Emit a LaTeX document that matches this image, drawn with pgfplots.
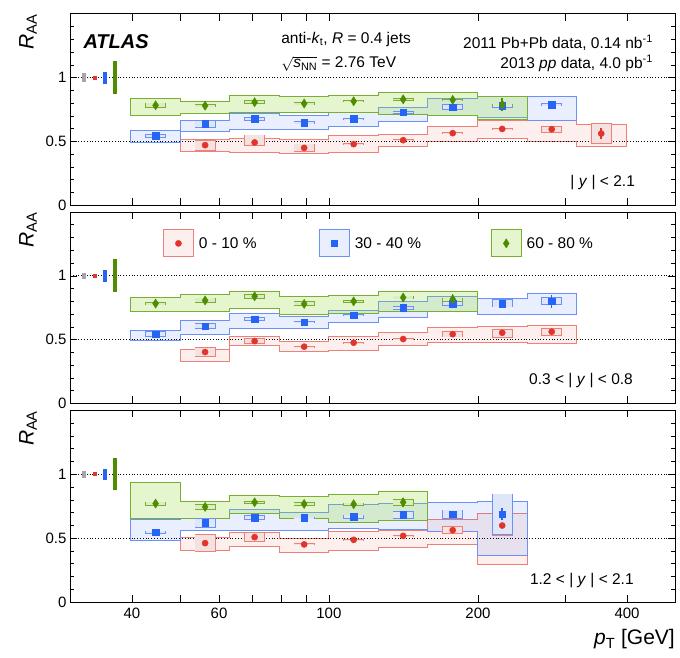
\documentclass[border=0pt]{standalone}
\usepackage{fontspec}
\setmainfont{Liberation Sans}
\usepackage{pgfplots}
\usepackage{pgfplotstable}
\pgfplotsset{compat=1.18}

\definecolor{cRed}{RGB}{226,52,42}
\definecolor{cBlue}{RGB}{38,100,245}
\definecolor{cGreen}{RGB}{78,140,0}
\definecolor{bGreen}{RGB}{150,220,60}
\definecolor{lGreen}{RGB}{120,175,50}
\definecolor{lRed}{RGB}{238,128,120}
\definecolor{lBlue}{RGB}{105,145,248}
\definecolor{fRed}{RGB}{242,226,225}
\definecolor{fBlue}{RGB}{222,230,248}
\definecolor{fGreen}{RGB}{218,238,192}
\definecolor{nGray}{RGB}{165,165,165}

\newcommand\tfs{\fontsize{15.5}{18}\selectfont}
\newcommand\lfs{\fontsize{21}{24}\selectfont}

% ---------- band outlines: top edge forward, bottom edge backward ----------
% Panel 1: |y| < 2.1
\pgfplotstableread{
x y
39.81 0.835
50.12 0.817
63.10 0.857
79.43 0.849
100 0.864
125.89 0.883
158.49 0.883
199.53 0.849
251.19 0.849
251.19 0.671
199.53 0.705
158.49 0.712
125.89 0.726
100 0.726
79.43 0.726
63.10 0.718
50.12 0.705
39.81 0.705
}\bandGone
\pgfplotstableread{
x y
39.81 0.585
50.12 0.666
63.10 0.718
79.43 0.700
100 0.726
125.89 0.765
158.49 0.840
199.53 0.852
251.19 0.852
316.23 0.852
316.23 0.666
251.19 0.685
199.53 0.700
158.49 0.655
125.89 0.614
100 0.595
79.43 0.595
63.10 0.575
50.12 0.492
39.81 0.492
}\bandBone
\pgfplotstableread{
x y
50.12 0.515
63.10 0.523
79.43 0.515
100 0.549
125.89 0.554
158.49 0.620
199.53 0.666
251.19 0.666
316.23 0.635
398.11 0.635
398.11 0.458
316.23 0.502
251.19 0.523
199.53 0.497
158.49 0.458
125.89 0.414
100 0.406
79.43 0.414
63.10 0.424
50.12 0.424
}\bandRone
% Panel 2: 0.3 < |y| < 0.8
\pgfplotstableread{
x y
39.81 0.830
50.12 0.854
63.10 0.880
79.43 0.840
100 0.848
125.89 0.880
158.49 0.874
199.53 0.874
199.53 0.718
158.49 0.723
125.89 0.705
100 0.697
79.43 0.744
63.10 0.723
50.12 0.723
39.81 0.723
}\bandGtwo
\pgfplotstableread{
x y
39.81 0.575
50.12 0.648
63.10 0.703
79.43 0.684
100 0.731
125.89 0.800
158.49 0.840
199.53 0.820
251.19 0.865
316.23 0.865
316.23 0.697
251.19 0.697
199.53 0.718
158.49 0.674
125.89 0.632
100 0.585
79.43 0.585
63.10 0.541
50.12 0.497
39.81 0.497
}\bandBtwo
\pgfplotstableread{
x y
50.12 0.426
63.10 0.523
79.43 0.489
100 0.523
125.89 0.554
158.49 0.593
199.53 0.606
251.19 0.614
316.23 0.614
316.23 0.471
251.19 0.479
199.53 0.479
158.49 0.453
125.89 0.419
100 0.411
79.43 0.457
63.10 0.333
50.12 0.333
}\bandRtwo
% Panel 3: 1.2 < |y| < 2.1
\pgfplotstableread{
x y
39.81 0.940
50.12 0.784
63.10 0.833
79.43 0.826
100 0.841
125.89 0.862
158.49 0.862
158.49 0.640
125.89 0.622
100 0.654
79.43 0.693
63.10 0.654
50.12 0.654
39.81 0.654
}\bandGthree
\pgfplotstableread{
x y
39.81 0.646
50.12 0.651
63.10 0.724
79.43 0.698
100 0.763
125.89 0.771
158.49 0.779
199.53 0.784
251.19 0.784
251.19 0.367
199.53 0.555
158.49 0.570
125.89 0.576
100 0.557
79.43 0.557
63.10 0.557
50.12 0.479
39.81 0.479
}\bandBthree
\pgfplotstableread{
x y
50.12 0.503
63.10 0.547
79.43 0.497
100 0.550
125.89 0.557
158.49 0.646
199.53 0.693
251.19 0.693
251.19 0.294
199.53 0.453
158.49 0.427
125.89 0.406
100 0.385
79.43 0.4375
63.10 0.406
50.12 0.406
}\bandRthree

% ---------- points: x, R_AA, stat. error, uncorrelated box low/high ----------
\pgfplotstableread{
x y s blo bhi
44.67 0.783 0.015 0.762 0.804
56.23 0.780 0.015 0.772 0.790
70.79 0.807 0.020 0.794 0.822
89.13 0.797 0.015 0.784 0.810
112.2 0.815 0.020 0.808 0.822
141.25 0.830 0.025 0.820 0.838
177.83 0.826 0.030 0.815 0.835
223.87 0.789 0.050 0.780 0.797
}\ptsGone
\pgfplotstableread{
x y s blo bhi
44.67 0.545 0.010 0.531 0.557
56.23 0.638 0.015 0.609 0.664
70.79 0.677 0.015 0.664 0.690
89.13 0.648 0.012 0.635 0.659
112.2 0.678 0.012 0.671 0.685
141.25 0.727 0.015 0.715 0.740
177.83 0.768 0.020 0.745 0.790
223.87 0.780 0.020 0.765 0.795
281.84 0.789 0.030 0.775 0.803
}\ptsBone
\pgfplotstableread{
x y s blo bhi
56.23 0.471 0.010 0.427 0.510
70.79 0.492 0.015 0.466 0.554
89.13 0.450 0.012 0.421 0.484
112.2 0.479 0.010 0.472 0.486
141.25 0.510 0.010 0.503 0.517
177.83 0.565 0.012 0.558 0.572
223.87 0.598 0.015 0.590 0.606
281.84 0.596 0.015 0.570 0.622
354.81 0.562 0.040 0.479 0.647
}\ptsRone
\pgfplotstableread{
x y s blo bhi
44.67 0.783 0.015 0.770 0.795
56.23 0.807 0.020 0.785 0.830
70.79 0.840 0.020 0.822 0.857
89.13 0.780 0.020 0.762 0.800
112.2 0.800 0.020 0.790 0.810
141.25 0.830 0.025 0.815 0.845
177.83 0.817 0.040 0.795 0.830
}\ptsGtwo
\pgfplotstableread{
x y s blo bhi
44.67 0.543 0.012 0.520 0.570
56.23 0.606 0.012 0.585 0.627
70.79 0.660 0.012 0.645 0.675
89.13 0.637 0.012 0.630 0.645
112.2 0.692 0.012 0.685 0.700
141.25 0.749 0.015 0.731 0.762
177.83 0.783 0.020 0.762 0.804
223.87 0.783 0.025 0.752 0.815
281.84 0.800 0.050 0.770 0.835
}\ptsBtwo
\pgfplotstableread{
x y s blo bhi
56.23 0.403 0.012 0.367 0.445
70.79 0.489 0.015 0.464 0.510
89.13 0.445 0.010 0.438 0.452
112.2 0.476 0.010 0.470 0.482
141.25 0.505 0.010 0.499 0.511
177.83 0.543 0.012 0.518 0.567
223.87 0.554 0.015 0.515 0.585
281.84 0.562 0.020 0.528 0.593
}\ptsRtwo
\pgfplotstableread{
x y s blo bhi
44.67 0.771 0.020 0.755 0.786
56.23 0.745 0.025 0.724 0.766
70.79 0.781 0.025 0.771 0.792
89.13 0.768 0.025 0.755 0.781
112.2 0.766 0.025 0.752 0.779
141.25 0.781 0.035 0.755 0.807
}\ptsGthree
\pgfplotstableread{
x y s blo bhi
44.67 0.547 0.012 0.536 0.560
56.23 0.620 0.015 0.583 0.656
70.79 0.661 0.015 0.641 0.680
89.13 0.659 0.012 0.649 0.669
112.2 0.667 0.015 0.651 0.685
141.25 0.685 0.015 0.654 0.713
177.83 0.690 0.015 0.654 0.724
223.87 0.690 0.045 0.523 0.849
}\ptsBthree
\pgfplotstableread{
x y s blo bhi
56.23 0.461 0.012 0.391 0.529
70.79 0.508 0.012 0.469 0.550
89.13 0.451 0.010 0.443 0.460
112.2 0.487 0.008 0.481 0.493
141.25 0.518 0.010 0.510 0.526
177.83 0.5625 0.012 0.536 0.594
223.87 0.599 0.020 0.518 0.693
}\ptsRthree

% normalisation uncertainty boxes at R_AA = 1 (x, half-height), per panel
\pgfplotstableread{
x e
31.98 0.033
}\nGone
\pgfplotstableread{
x e
33.69 0.016
}\nRone
\pgfplotstableread{
x e
35.26 0.047
}\nBone
\pgfplotstableread{
x e
37.02 0.127
}\nGrone
\pgfplotstableread{
x e
31.98 0.026
}\nGtwo
\pgfplotstableread{
x e
33.69 0.015
}\nRtwo
\pgfplotstableread{
x e
35.26 0.045
}\nBtwo
\pgfplotstableread{
x e
37.02 0.130
}\nGrtwo
\pgfplotstableread{
x e
31.98 0.030
}\nGthree
\pgfplotstableread{
x e
33.69 0.015
}\nRthree
\pgfplotstableread{
x e
35.26 0.045
}\nBthree
\pgfplotstableread{
x e
37.02 0.125
}\nGrthree

\pgfplotsset{
  mRed/.style={only marks, mark=*, mark size=3.1pt, color=cRed, mark options={solid},
    /pgfplots/error bars/y dir=both, /pgfplots/error bars/y explicit,
    /pgfplots/error bars/error mark=none,
    /pgfplots/error bars/error bar style={line width=1.5pt, color=cRed}},
  mBlue/.style={only marks, mark=square*, mark size=3.2pt, color=cBlue, mark options={solid},
    /pgfplots/error bars/y dir=both, /pgfplots/error bars/y explicit,
    /pgfplots/error bars/error mark=none,
    /pgfplots/error bars/error bar style={line width=1.5pt, color=cBlue}},
  mGreen/.style={only marks, mark=diamond*, mark size=4.6pt, color=cGreen, mark options={solid, xscale=0.85},
    /pgfplots/error bars/y dir=both, /pgfplots/error bars/y explicit,
    /pgfplots/error bars/error mark=none,
    /pgfplots/error bars/error bar style={line width=1.5pt, color=cGreen}},
  legRed/.style={legend image code/.code={
    \draw[fill=cRed, fill opacity=0.08, draw=lRed, line width=0.9pt] (0pt,-13.5pt) rectangle (30pt,13.5pt);
    \draw[mark repeat=2,mark phase=2,##1] plot coordinates {(0pt,0pt) (15pt,0pt) (30pt,0pt)};}},
  legBlue/.style={legend image code/.code={
    \draw[fill=cBlue, fill opacity=0.1, draw=lBlue, line width=0.9pt] (0pt,-13.5pt) rectangle (30pt,13.5pt);
    \draw[mark repeat=2,mark phase=2,##1] plot coordinates {(0pt,0pt) (15pt,0pt) (30pt,0pt)};}},
  legGreen/.style={legend image code/.code={
    \draw[fill=bGreen, fill opacity=0.25, draw=lGreen, line width=0.9pt] (0pt,-13.5pt) rectangle (30pt,13.5pt);
    \draw[mark repeat=2,mark phase=2,##1] plot coordinates {(0pt,0pt) (15pt,0pt) (30pt,0pt)};}},
}

\newcommand\band[3]{%
  \addplot[const plot, #2, draw=#3, line width=0.9pt, forget plot] table[x=x,y=y]{#1} --cycle;
}
\newcommand\boxes[3]{%
  \addplot[draw=none, no markers, forget plot,
    /pgfplots/error bars/y dir=both, /pgfplots/error bars/y explicit, /pgfplots/error bars/error mark=none,
    /pgfplots/error bars/error bar style={line width=21pt, draw=#2}]
    table[x=x, y=y, y error plus expr=\thisrow{bhi}-\thisrow{y}, y error minus expr=\thisrow{y}-\thisrow{blo}]{#1};
  \addplot[draw=none, no markers, forget plot,
    /pgfplots/error bars/y dir=both, /pgfplots/error bars/y explicit, /pgfplots/error bars/error mark=none,
    /pgfplots/error bars/error bar style={line width=19.4pt, draw=#3}]
    table[x=x, y=y, y error plus expr={max(\thisrow{bhi}-\thisrow{y}-0.0065,0.0003)},
      y error minus expr={max(\thisrow{y}-\thisrow{blo}-0.0065,0.0003)}]{#1};
}
\newcommand\refl{%
  \addplot[black, dash pattern=on 0.8pt off 2pt, line width=0.7pt, forget plot] coordinates {(30,1) (500,1)};
  \addplot[black, dash pattern=on 0.8pt off 2pt, line width=0.7pt, forget plot] coordinates {(30,0.5) (500,0.5)};
}
\newcommand\nbox[2]{%
  \addplot[draw=none, no markers, forget plot,
    /pgfplots/error bars/y dir=both, /pgfplots/error bars/y explicit, /pgfplots/error bars/error mark=none,
    /pgfplots/error bars/error bar style={line width=4pt, draw=#2}] table[x=x, y expr=1, y error=e] {#1};
}
\newcommand\raa{\node[rotate=90, anchor=south east, inner sep=0pt, font=\lfs] at (rel axis cs:-0.0545,1) {\textit{R}\textsubscript{AA}};}

\begin{document}
\begin{tikzpicture}
\useasboundingbox (0,0) rectangle (680pt,658pt);

% ===== Panel 1 =====
\begin{axis}[width=605pt, height=191.5pt, scale only axis,
    xmode=log, xmin=30, xmax=500, ymin=0, ymax=1.5,
    xtick={40,50,60,70,80,90,100,200,300,400}, minor xtick={},
    ytick={0,0.5,1},
    minor ytick={0.1,0.2,0.3,0.4,0.6,0.7,0.8,0.9,1.1,1.2,1.3,1.4},
    major tick length=7pt, minor tick length=4pt,
    tick style={black, line width=0.6pt},
    axis line style={line width=0.8pt},
    tick label style={font=\fontsize{15}{15}\selectfont},
    clip=false,
    /pgf/number format/assume math mode=true,
    at={(70pt,452.7pt)}, anchor=south west, xticklabels={}]
\band{\bandRone}{fill=cRed, fill opacity=0.08}{lRed}
\band{\bandBone}{fill=cBlue, fill opacity=0.1}{lBlue}
\band{\bandGone}{fill=bGreen, fill opacity=0.25}{lGreen}
\refl
\nbox{\nGone}{nGray}\nbox{\nRone}{cRed}\nbox{\nBone}{cBlue}\nbox{\nGrone}{cGreen}
\boxes{\ptsRone}{lRed}{fRed}
\boxes{\ptsBone}{lBlue}{fBlue}
\boxes{\ptsGone}{lGreen}{fGreen}
\addplot[mRed, forget plot] table[x=x,y=y,y error=s]{\ptsRone};
\addplot[mBlue, forget plot] table[x=x,y=y,y error=s]{\ptsBone};
\addplot[mGreen, forget plot] table[x=x,y=y,y error=s]{\ptsGone};
\raa
\node[anchor=base west, inner sep=0pt, font=\fontsize{20}{20}\selectfont\bfseries\itshape] at (rel axis cs:0.022,0.8207) {ATLAS};
\node[anchor=base west, inner sep=0pt, font=\tfs] at (rel axis cs:0.349,0.845) {anti-\textit{k}\textsubscript{t}, \textit{R} = 0.4 jets};
\node[anchor=base west, inner sep=0pt, font=\tfs] at (rel axis cs:0.349,0.719) {$\sqrt{\mbox{\textit{s}\textsubscript{NN}}}$ = 2.76 TeV};
\node[anchor=base east, inner sep=0pt, font=\tfs] at (rel axis cs:0.9636,0.8207) {2011 Pb+Pb data, 0.14 nb\textsuperscript{-1}};
\node[anchor=base east, inner sep=0pt, font=\tfs] at (rel axis cs:0.9636,0.716) {2013 \textit{pp} data, 4.0 pb\textsuperscript{-1}};
\node[anchor=base east, inner sep=0pt, font=\tfs] at (rel axis cs:0.934,0.097) {| \textit{y} | < 2.1};
\end{axis}

% ===== Panel 2 =====
\begin{axis}[width=605pt, height=191.5pt, scale only axis,
    xmode=log, xmin=30, xmax=500, ymin=0, ymax=1.5,
    xtick={40,50,60,70,80,90,100,200,300,400}, minor xtick={},
    ytick={0,0.5,1},
    minor ytick={0.1,0.2,0.3,0.4,0.6,0.7,0.8,0.9,1.1,1.2,1.3,1.4},
    major tick length=7pt, minor tick length=4pt,
    tick style={black, line width=0.6pt},
    axis line style={line width=0.8pt},
    tick label style={font=\fontsize{15}{15}\selectfont},
    clip=false,
    /pgf/number format/assume math mode=true,
    at={(70pt,254.5pt)}, anchor=south west, xticklabels={},
    legend columns=3, legend cell align=left,
    legend style={at={(rel axis cs:0.1537,0.836)}, anchor=west, draw=none, fill=none,
      inner sep=0pt, outer sep=0pt, column sep=0pt, nodes={inner sep=0pt}, font=\tfs}]
\band{\bandRtwo}{fill=cRed, fill opacity=0.08}{lRed}
\band{\bandBtwo}{fill=cBlue, fill opacity=0.1}{lBlue}
\band{\bandGtwo}{fill=bGreen, fill opacity=0.25}{lGreen}
\refl
\nbox{\nGtwo}{nGray}\nbox{\nRtwo}{cRed}\nbox{\nBtwo}{cBlue}\nbox{\nGrtwo}{cGreen}
\boxes{\ptsRtwo}{lRed}{fRed}
\boxes{\ptsBtwo}{lBlue}{fBlue}
\boxes{\ptsGtwo}{lGreen}{fGreen}
\addplot[mRed, legRed] table[x=x,y=y,y error=s]{\ptsRtwo};
\addlegendentry{\makebox[125pt][l]{\hspace{5pt}0 - 10 \%}}
\addplot[mBlue, legBlue] table[x=x,y=y,y error=s]{\ptsBtwo};
\addlegendentry{\makebox[141pt][l]{\hspace{5pt}30 - 40 \%}}
\addplot[mGreen, legGreen] table[x=x,y=y,y error=s]{\ptsGtwo};
\addlegendentry{\hspace{5pt}60 - 80 \%}
\raa
\node[anchor=base east, inner sep=0pt, font=\tfs] at (rel axis cs:0.9306,0.10) {0.3 < | \textit{y} | < 0.8};
\end{axis}

% ===== Panel 3 =====
\begin{axis}[width=605pt, height=191.5pt, scale only axis,
    xmode=log, xmin=30, xmax=500, ymin=0, ymax=1.5,
    xtick={40,50,60,70,80,90,100,200,300,400}, minor xtick={},
    ytick={0,0.5,1},
    minor ytick={0.1,0.2,0.3,0.4,0.6,0.7,0.8,0.9,1.1,1.2,1.3,1.4},
    major tick length=7pt, minor tick length=4pt,
    tick style={black, line width=0.6pt},
    axis line style={line width=0.8pt},
    tick label style={font=\fontsize{15}{15}\selectfont},
    xticklabel style={yshift=-2pt},
    clip=false,
    /pgf/number format/assume math mode=true,
    at={(70pt,56pt)}, anchor=south west, xticklabels={40,,60,,,,100,200,,400}]
\band{\bandRthree}{fill=cRed, fill opacity=0.08}{lRed}
\band{\bandBthree}{fill=cBlue, fill opacity=0.1}{lBlue}
\band{\bandGthree}{fill=bGreen, fill opacity=0.25}{lGreen}
\refl
\nbox{\nGthree}{nGray}\nbox{\nRthree}{cRed}\nbox{\nBthree}{cBlue}\nbox{\nGrthree}{cGreen}
\boxes{\ptsRthree}{lRed}{fRed}
\boxes{\ptsBthree}{lBlue}{fBlue}
\boxes{\ptsGthree}{lGreen}{fGreen}
\addplot[mRed, forget plot] table[x=x,y=y,y error=s]{\ptsRthree};
\addplot[mBlue, forget plot] table[x=x,y=y,y error=s]{\ptsBthree};
\addplot[mGreen, forget plot] table[x=x,y=y,y error=s]{\ptsGthree};
\raa
\node[anchor=base east, inner sep=0pt, font=\tfs] at (rel axis cs:0.932,0.092) {1.2 < | \textit{y} | < 2.1};
\node[anchor=base east, inner sep=0pt, font=\lfs] at (rel axis cs:1,-0.224) {\textit{p}\textsubscript{T} [GeV]};
\end{axis}
\end{tikzpicture}
\end{document}
